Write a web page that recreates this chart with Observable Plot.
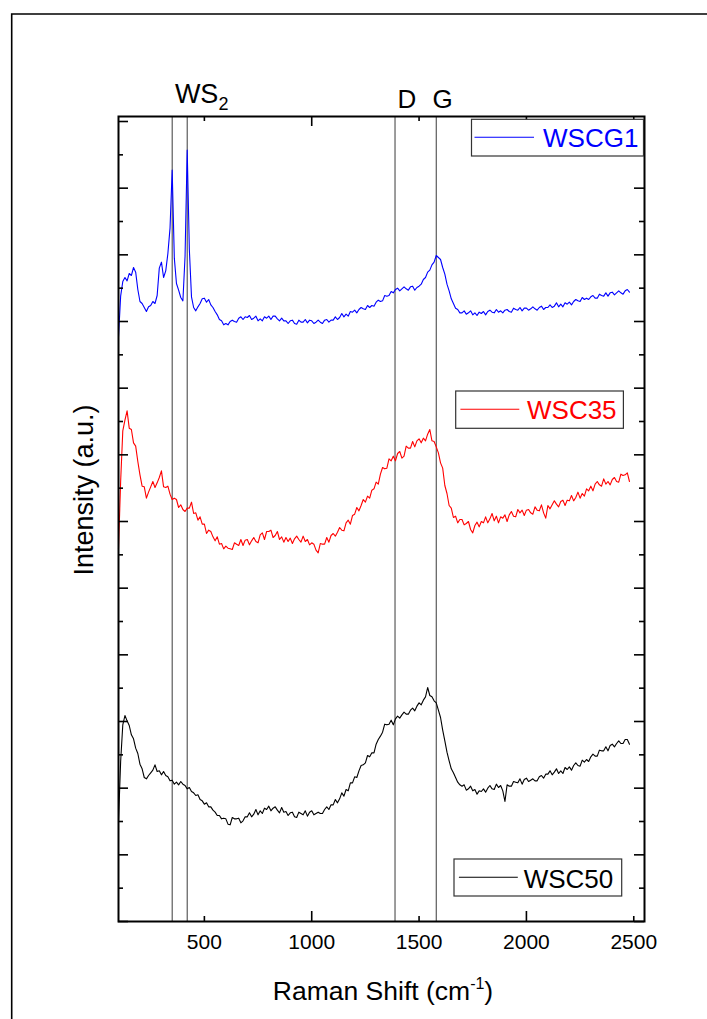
<!DOCTYPE html>
<html>
<head>
<meta charset="utf-8">
<script src="https://cdn.jsdelivr.net/npm/d3@7"></script>
<script src="https://cdn.jsdelivr.net/npm/@observablehq/plot@0.6"></script>
<style>
html, body { margin: 0; padding: 0; background: #fff; }
#chart { width: 707px; height: 1019px; overflow: hidden; }
svg { display: block; }
</style>
</head>
<body>
<div id="chart"></div>
<script>
// ---------------- DATA ----------------
const shift = [
  100,110,120,130,140,150,160,170,180,190,
  200,210,220,230,240,250,260,270,280,290,
  300,310,320,330,340,350,360,370,380,390,
  400,410,420,430,440,450,460,470,480,490,
  500,510,520,530,540,550,560,570,580,590,
  600,610,620,630,640,650,660,670,680,690,
  700,710,720,730,740,750,760,770,780,790,
  800,810,820,830,840,850,860,870,880,890,
  900,910,920,930,940,950,960,970,980,990,
  1000,1010,1020,1030,1040,1050,1060,1070,1080,1090,
  1100,1110,1120,1130,1140,1150,1160,1170,1180,1190,
  1200,1210,1220,1230,1240,1250,1260,1270,1280,1290,
  1300,1310,1320,1330,1340,1350,1360,1370,1380,1390,
  1400,1410,1420,1430,1440,1450,1460,1470,1480,1490,
  1500,1510,1520,1530,1540,1550,1560,1570,1580,1590,
  1600,1610,1620,1630,1640,1650,1660,1670,1680,1690,
  1700,1710,1720,1730,1740,1750,1760,1770,1780,1790,
  1800,1810,1820,1830,1840,1850,1860,1870,1880,1890,
  1900,1910,1920,1930,1940,1950,1960,1970,1980,1990,
  2000,2010,2020,2030,2040,2050,2060,2070,2080,2090,
  2100,2110,2120,2130,2140,2150,2160,2170,2180,2190,
  2200,2210,2220,2230,2240,2250,2260,2270,2280,2290,
  2300,2310,2320,2330,2340,2350,2360,2370,2380,2390,
  2400,2410,2420,2430,2440,2450,2460,2470,2480
];

const wscg1 = [
  8.77,9.38,9.60,9.66,9.61,9.72,9.69,9.81,9.74,9.48,
  9.30,9.27,9.21,9.15,9.22,9.24,9.30,9.27,9.39,9.80,
  9.89,9.66,9.76,10.02,10.40,11.27,9.95,9.57,9.47,9.36,
  9.31,9.98,11.57,10.08,9.37,9.21,9.16,9.22,9.27,9.34,
  9.35,9.29,9.33,9.25,9.21,9.15,9.10,9.03,9.01,8.95,
  8.97,8.95,9.00,9.02,9.00,8.99,9.05,9.07,9.03,9.07,
  9.06,9.09,9.03,9.05,9.08,9.01,9.04,9.01,9.07,9.05,
  9.08,9.03,9.08,9.08,9.04,9.01,9.05,9.01,9.01,8.97,
  9.01,9.02,8.97,8.96,9.02,8.99,8.99,9.03,8.98,9.02,
  9.01,8.97,8.99,9.02,8.99,8.97,9.02,9.03,8.99,9.02,
  9.02,9.07,9.03,9.06,9.12,9.07,9.11,9.08,9.15,9.14,
  9.17,9.13,9.18,9.21,9.19,9.18,9.24,9.21,9.24,9.23,
  9.29,9.32,9.30,9.31,9.39,9.38,9.39,9.45,9.43,9.48,
  9.50,9.46,9.49,9.52,9.49,9.47,9.52,9.53,9.47,9.51,
  9.53,9.56,9.63,9.66,9.74,9.77,9.85,9.89,9.99,9.96,
  9.93,9.81,9.71,9.56,9.46,9.34,9.27,9.20,9.18,9.13,
  9.13,9.16,9.11,9.13,9.16,9.10,9.13,9.09,9.14,9.12,
  9.15,9.10,9.15,9.17,9.14,9.13,9.18,9.14,9.16,9.13,
  9.17,9.18,9.15,9.14,9.20,9.18,9.17,9.21,9.16,9.20,
  9.20,9.17,9.19,9.22,9.19,9.17,9.21,9.23,9.18,9.21,
  9.21,9.25,9.21,9.23,9.28,9.22,9.26,9.22,9.28,9.26,
  9.29,9.25,9.30,9.33,9.31,9.30,9.36,9.33,9.35,9.33,
  9.37,9.39,9.35,9.35,9.41,9.39,9.38,9.43,9.38,9.43,
  9.44,9.40,9.43,9.46,9.43,9.41,9.46,9.48,9.44
];

const wsc35 = [
  5.59,6.60,7.36,7.52,7.66,7.40,7.38,7.18,7.13,6.90,
  6.70,6.53,6.52,6.35,6.44,6.52,6.60,6.51,6.58,6.66,
  6.76,6.52,6.51,6.53,6.41,6.33,6.35,6.33,6.21,6.25,
  6.18,6.15,6.20,6.20,6.29,6.12,6.13,6.02,6.07,5.96,
  5.96,5.82,5.87,5.85,5.77,5.71,5.77,5.66,5.67,5.59,
  5.63,5.60,5.59,5.58,5.68,5.66,5.64,5.73,5.64,5.72,
  5.73,5.65,5.71,5.76,5.70,5.68,5.80,5.83,5.73,5.85,
  5.85,5.87,5.76,5.79,5.85,5.73,5.77,5.69,5.76,5.70,
  5.75,5.67,5.74,5.78,5.73,5.69,5.78,5.70,5.73,5.65,
  5.68,5.66,5.57,5.53,5.67,5.66,5.66,5.76,5.69,5.79,
  5.82,5.78,5.84,5.91,5.87,5.86,5.98,6.02,5.96,6.09,
  6.11,6.21,6.16,6.24,6.33,6.29,6.38,6.35,6.47,6.49,
  6.59,6.56,6.71,6.81,6.79,6.80,6.94,6.91,6.98,6.91,
  7.02,7.05,6.95,6.98,7.13,7.10,7.10,7.20,7.12,7.21,
  7.24,7.18,7.25,7.21,7.31,7.38,7.21,7.20,7.12,7.03,
  6.88,6.80,6.54,6.42,6.24,6.20,6.06,6.08,5.98,6.03,
  6.03,5.95,5.97,6.00,5.88,5.83,5.94,5.99,5.92,6.00,
  5.98,6.07,5.98,6.04,6.12,6.01,6.08,5.98,6.07,6.05,
  6.10,6.00,6.10,6.15,6.08,6.07,6.18,6.13,6.17,6.09,
  6.17,6.18,6.13,6.11,6.22,6.17,6.16,6.25,6.13,6.05,
  6.24,6.19,6.25,6.31,6.26,6.22,6.30,6.32,6.24,6.32,
  6.31,6.39,6.31,6.36,6.44,6.35,6.42,6.38,6.49,6.46,
  6.53,6.46,6.56,6.60,6.55,6.53,6.64,6.56,6.60,6.55,
  6.63,6.66,6.60,6.59,6.71,6.69,6.70,6.73,6.60
];

const wsc50 = [
  1.50,2.40,2.95,3.09,3.01,2.94,2.80,2.74,2.60,2.52,
  2.36,2.29,2.16,2.14,2.19,2.23,2.27,2.35,2.25,2.26,
  2.20,2.25,2.19,2.17,2.11,2.12,2.06,2.09,2.05,2.10,
  2.06,2.04,1.99,2.01,1.95,1.93,1.89,1.90,1.83,1.81,
  1.76,1.78,1.72,1.72,1.67,1.64,1.59,1.59,1.54,1.55,
  1.54,1.46,1.45,1.56,1.54,1.54,1.55,1.48,1.51,1.57,
  1.57,1.63,1.57,1.61,1.68,1.60,1.66,1.62,1.70,1.68,
  1.73,1.66,1.70,1.72,1.67,1.63,1.71,1.64,1.65,1.59,
  1.63,1.64,1.57,1.56,1.64,1.62,1.60,1.66,1.58,1.64,
  1.66,1.60,1.62,1.64,1.62,1.62,1.68,1.72,1.68,1.75,
  1.75,1.83,1.78,1.84,1.93,1.88,1.98,1.96,2.08,2.08,
  2.17,2.16,2.26,2.34,2.35,2.38,2.49,2.47,2.53,2.53,
  2.66,2.73,2.78,2.84,2.96,2.95,2.96,3.02,2.95,3.04,
  3.08,3.05,3.10,3.14,3.11,3.11,3.17,3.20,3.16,3.23,
  3.28,3.25,3.32,3.37,3.51,3.39,3.37,3.31,3.28,3.17,
  3.06,2.87,2.71,2.54,2.41,2.29,2.23,2.16,2.09,2.05,
  2.03,2.05,1.97,1.99,2.03,1.96,1.98,1.91,1.96,1.95,
  1.99,1.94,2.00,2.04,1.99,1.98,2.06,2.01,2.04,1.96,
  1.80,2.05,2.03,2.03,2.10,2.09,2.08,2.14,2.06,2.13,
  2.15,2.10,2.12,2.14,2.11,2.11,2.17,2.19,2.15,2.21,
  2.21,2.26,2.20,2.24,2.29,2.22,2.26,2.22,2.31,2.28,
  2.32,2.27,2.34,2.38,2.34,2.33,2.42,2.39,2.43,2.40,
  2.47,2.51,2.48,2.48,2.57,2.56,2.56,2.62,2.56,2.64,
  2.66,2.62,2.67,2.71,2.67,2.67,2.73,2.73,2.66
];

const seriesNames = ["WSCG1", "WSC35", "WSC50"];
const seriesColors = ["#0000FF", "#FF0000", "#000000"];
const peakLines = [350, 420, 1388, 1580];
const peakLabels = ["WS", "D", "G"];
const peakLabelShift = [365, 1402, 1565];
const xTicks = [500, 1000, 1500, 2000, 2500];
const xMajor = [1000, 2000];
const xMinor = [500, 1500, 2500];
const yMajor = [0,1,2,3,4,5,6,7,8,9,10,11,12];
const yMinor = [0.5,1.5,2.5,3.5,4.5,5.5,6.5,7.5,8.5,9.5,10.5,11.5];
const xTitle = "Raman Shift (cm";
const yTitle = "Intensity (a.u.)";

// ---------------- LAYOUT ----------------
const W = 707, H = 1019;
const mL = 118, mR = 63, mT = 116, mB = 98;
const fw = W - mL - mR, fh = H - mT - mB;
const FONT = "'Liberation Sans', Arial, Helvetica, sans-serif";

const seriesValues = [wscg1, wsc35, wsc50];
const rows = [];
seriesNames.forEach((name, k) => {
  shift.forEach((x, i) => rows.push({shift: x, intensity: seriesValues[k][i], sample: name}));
});

const plot = Plot.plot({
  width: W, height: H,
  marginLeft: mL, marginRight: mR, marginTop: mT, marginBottom: mB,
  style: {fontFamily: FONT, fontSize: "21px", color: "#000", background: "#fff", overflow: "visible"},
  x: {domain: [100, 2550], axis: null},
  y: {domain: [0, 12.075], axis: null},
  color: {domain: seriesNames, range: seriesColors},
  marks: [
    Plot.ruleX(peakLines, {stroke: "#3a3a3a", strokeWidth: 1}),
    Plot.line(rows, {x: "shift", y: "intensity", z: "sample", stroke: "sample", strokeWidth: 1.1}),
    Plot.ruleX(xMajor, {stroke: "#000", strokeWidth: 1.6, insetTop: fh - 10}),
    Plot.ruleX(xMinor, {stroke: "#000", strokeWidth: 1.6, insetTop: fh - 5}),
    Plot.ruleX(xMajor, {stroke: "#000", strokeWidth: 1.6, insetBottom: fh - 10}),
    Plot.ruleX(xMinor, {stroke: "#000", strokeWidth: 1.6, insetBottom: fh - 5}),
    Plot.ruleY(yMajor, {stroke: "#000", strokeWidth: 1.6, insetRight: fw - 10}),
    Plot.ruleY(yMinor, {stroke: "#000", strokeWidth: 1.6, insetRight: fw - 5}),
    Plot.ruleY(yMajor, {stroke: "#000", strokeWidth: 1.6, insetLeft: fw - 10}),
    Plot.ruleY(yMinor, {stroke: "#000", strokeWidth: 1.6, insetLeft: fw - 5}),
    Plot.frame({stroke: "#000", strokeWidth: 2}),
    Plot.axisX(xTicks, {anchor: "bottom", tickSize: 0, tickPadding: 13, fontSize: 21, label: null, tickFormat: d => String(d)})
  ]
});

document.getElementById("chart").appendChild(plot);

const xs = plot.scale("x");
const svg = d3.select(plot);

// outer figure border (left and top edges visible)
svg.append("path")
  .attr("d", `M11.7,${H} L11.7,14 L${W},14`)
  .attr("fill", "none").attr("stroke", "#000").attr("stroke-width", 1.6);

// peak labels above the frame
const g = svg.append("g").attr("font-family", FONT).attr("fill", "#000");
const ws = g.append("text").attr("x", xs.apply(peakLabelShift[0])).attr("y", 102.5)
  .attr("text-anchor", "start").attr("font-size", 27);
ws.append("tspan").text(peakLabels[0]);
ws.append("tspan").attr("font-size", 18).attr("dy", 7.5).text("2");
g.append("text").attr("x", xs.apply(peakLabelShift[1])).attr("y", 107.5)
  .attr("text-anchor", "start").attr("font-size", 26).text(peakLabels[1]);
g.append("text").attr("x", xs.apply(peakLabelShift[2])).attr("y", 107.5)
  .attr("text-anchor", "start").attr("font-size", 26).text(peakLabels[2]);

// axis titles
const xt = g.append("text").attr("x", 383).attr("y", 1000)
  .attr("text-anchor", "middle").attr("font-size", 26.5);
xt.append("tspan").text(xTitle);
xt.append("tspan").attr("font-size", 16).attr("dy", -11).text("-1");
xt.append("tspan").attr("dy", 11).text(")");

g.append("text").attr("transform", "translate(93,490) rotate(-90)")
  .attr("text-anchor", "middle").attr("font-size", 27).text(yTitle);

// legends
const legendLayout = [
  {x: 471.5, y: 119.3, w: 172, h: 36.7, lx1: 474.5, lx2: 534, ly: 137.3, tx: 543, ty: 147.3},
  {x: 455.7, y: 391, w: 167.7, h: 37.3, lx1: 460.4, lx2: 519.3, ly: 409.3, tx: 527, ty: 419},
  {x: 454, y: 859, w: 167.7, h: 37, lx1: 458.9, lx2: 517.8, ly: 877.3, tx: 523.7, ty: 887.7}
];
seriesNames.forEach((name, k) => {
  const L = legendLayout[k];
  const lg = svg.append("g");
  lg.append("rect").attr("x", L.x).attr("y", L.y).attr("width", L.w).attr("height", L.h)
    .attr("fill", "#fff").attr("stroke", "#333").attr("stroke-width", 1.2);
  lg.append("line").attr("x1", L.lx1).attr("x2", L.lx2).attr("y1", L.ly).attr("y2", L.ly)
    .attr("stroke", seriesColors[k]).attr("stroke-width", 1.1);
  lg.append("text").attr("x", L.tx).attr("y", L.ty).attr("text-anchor", "start")
    .attr("font-family", FONT).attr("font-size", 26)
    .attr("fill", seriesColors[k]).text(name);
});
</script>
</body>
</html>
